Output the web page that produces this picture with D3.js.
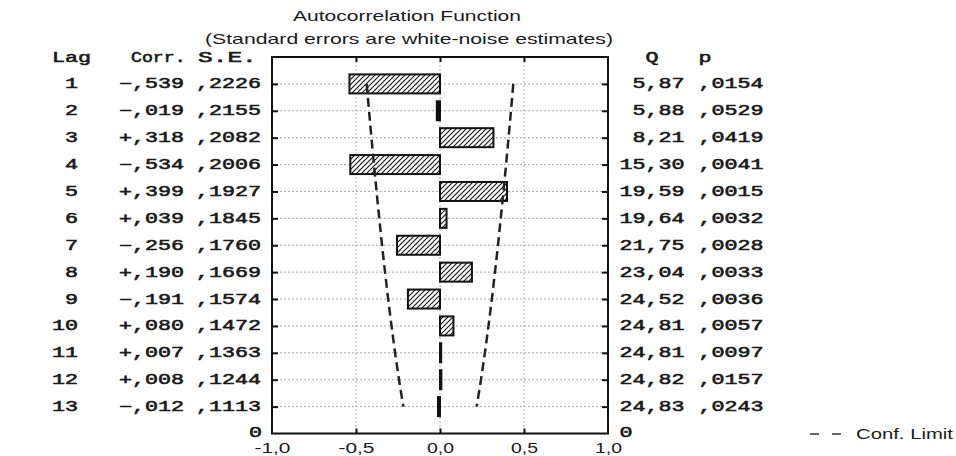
<!DOCTYPE html>
<html><head><meta charset="utf-8">
<script src="https://cdn.jsdelivr.net/npm/d3@7"></script>
<style>
html,body{margin:0;padding:0;background:#fff;}
svg{display:block;}
.mono{font-family:"Liberation Mono","DejaVu Sans Mono",monospace;font-weight:normal;font-size:14px;fill:#1a1a1a;stroke:#1a1a1a;stroke-width:0.55px;}
.sans{font-family:"Liberation Sans",Arial,sans-serif;fill:#1a1a1a;}
</style></head>
<body>
<svg id="c" width="956" height="456"></svg>
<script>
const lags = [1,2,3,4,5,6,7,8,9,10,11,12,13];
const corr = [-0.539,-0.019,0.318,-0.534,0.399,0.039,-0.256,0.190,-0.191,0.080,0.007,0.008,-0.012];
const stdErr = [0.2226,0.2155,0.2082,0.2006,0.1927,0.1845,0.1760,0.1669,0.1574,0.1472,0.1363,0.1244,0.1113];
const qStat = [5.87,5.88,8.21,15.30,19.59,19.64,21.75,23.04,24.52,24.81,24.81,24.82,24.83];
const pVal = [0.0154,0.0529,0.0419,0.0041,0.0015,0.0032,0.0028,0.0033,0.0036,0.0057,0.0097,0.0157,0.0243];
const xTicks = [-1,-0.5,0,0.5,1];
const gridX = [-0.5,0,0.5];
const confZ = 1.96;

const svg = d3.select("#c");
const x = d3.scaleLinear().domain([-1,1]).range([272,608]);
const y = d3.scaleLinear().domain([0,14]).range([57,433.5]);
const CH = 13;              // char advance in table font
const MONO_FS = 14;
const SX = CH/(0.6*MONO_FS); // horizontal stretch of the table font

function monoText(g, str, xs, yb, sx){
  return g.append("text").attr("class","mono")
    .attr("transform",`translate(${xs},${yb}) scale(${sx||SX},1)`)
    .attr("xml:space","preserve").style("white-space","pre").text(str);
}
function sansText(str, cx, yb, size, width){
  return svg.append("text").attr("class","sans").attr("x",cx-width/2).attr("y",yb)
    .attr("font-size",size).attr("textLength",width).attr("lengthAdjust","spacingAndGlyphs").text(str);
}

// hatch pattern
const defs = svg.append("defs");
const pat = defs.append("pattern").attr("id","hatch").attr("patternUnits","userSpaceOnUse")
  .attr("width",5).attr("height",5);
pat.append("rect").attr("width",5).attr("height",5).attr("fill","#fff");
pat.append("path").attr("d","M-1,1 L1,-1 M0,5 L5,0 M4,6 L6,4").attr("stroke","#111").attr("stroke-width",1.1);

// titles
sansText("Autocorrelation Function", 407, 21, 15, 228);
sansText("(Standard errors are white-noise estimates)", 409, 44, 15, 408);

// grid
const plot = svg.append("g");
plot.selectAll("line.hg").data(lags).join("line").attr("class","hg")
  .attr("x1",x(-1)).attr("x2",x(1)).attr("y1",d=>y(d)).attr("y2",d=>y(d))
  .attr("stroke","#aaa").attr("stroke-width",1).attr("stroke-dasharray","2,2");
plot.selectAll("line.vg").data(gridX).join("line").attr("class","vg")
  .attr("x1",d=>x(d)).attr("x2",d=>x(d)).attr("y1",y(0)).attr("y2",y(14))
  .attr("stroke","#aaa").attr("stroke-width",1).attr("stroke-dasharray","2,2");

// bars
const bh = 19;
plot.selectAll("rect.bar").data(lags).join("rect").attr("class","bar")
  .attr("x",(d,i)=>x(Math.min(0,corr[i])))
  .attr("width",(d,i)=>Math.abs(x(corr[i])-x(0)))
  .attr("y",d=>y(d)-bh/2).attr("height",bh)
  .attr("fill",(d,i)=>Math.abs(x(corr[i])-x(0))<5 ? "#111" : "url(#hatch)")
  .attr("stroke","#111").attr("stroke-width",2);

// confidence limits
const line = d3.line().curve(d3.curveMonotoneY);
[1,-1].forEach(sgn=>{
  plot.append("path")
    .attr("d", line(lags.map((d,i)=>[x(sgn*confZ*stdErr[i]), y(d)])))
    .attr("fill","none").attr("stroke","#222").attr("stroke-width",2.5)
    .attr("stroke-dasharray","9,5");
});

// axes (ticks inward)
const axL = svg.append("g").attr("transform",`translate(${x(-1)},0)`)
  .call(d3.axisLeft(y).tickValues(lags).tickSize(-6).tickFormat(""));
const axR = svg.append("g").attr("transform",`translate(${x(1)},0)`)
  .call(d3.axisRight(y).tickValues(lags).tickSize(-6).tickFormat(""));
const axT = svg.append("g").attr("transform",`translate(0,${y(0)})`)
  .call(d3.axisTop(x).tickValues(gridX).tickSize(-5).tickFormat(""));
const fmtX = v => d3.format(".1f")(v).replace("−","-").replace(".",",");
const axB = svg.append("g").attr("transform",`translate(0,${y(14)})`)
  .call(d3.axisBottom(x).tickValues(xTicks).tickSize(-5).tickPadding(9.5).tickFormat(fmtX));
[axL,axR,axT,axB].forEach(a=>{
  a.select(".domain").remove();
  a.selectAll(".tick line").attr("stroke","#111").attr("stroke-width",2);
});
axB.selectAll(".tick").filter(d=>d===-1||d===1).select("line").remove();
axB.selectAll("text").attr("font-family","Liberation Sans, Arial, sans-serif")
  .attr("font-size",14.5).attr("fill","#1a1a1a")
  .attr("textLength",function(){return this.textContent.length*9;})
  .attr("lengthAdjust","spacingAndGlyphs");

// frame
svg.append("rect").attr("x",x(-1)).attr("y",y(0)).attr("width",x(1)-x(-1)).attr("height",y(14)-y(0))
  .attr("fill","none").attr("stroke","#111").attr("stroke-width",2);

// table text
const tbl = svg.append("g");
const fmtCorr = v => (v<0?"\u2212":"+")+","+String(Math.round(Math.abs(v)*1000)).padStart(3,"0");
const fmtP = v => ","+String(Math.round(v*10000)).padStart(4,"0");
const fmtQ = v => v.toFixed(2).replace(".",",");
const base = d => y(d)+4.5;

monoText(tbl,"Lag",52,y(0)+5);
monoText(tbl,"Corr.",131,y(0)+5, 1.3);
monoText(tbl,"S.E.",198,y(0)+5, 1.75);
monoText(tbl,"Q",645.5,y(0)+5);
monoText(tbl,"p",698.5,y(0)+5);

lags.forEach((d,i)=>{
  const ls = String(d);
  monoText(tbl, ls, 78-ls.length*CH, base(d));
  monoText(tbl, fmtCorr(corr[i]), 119, base(d));
  monoText(tbl, fmtP(stdErr[i]), 196, base(d));
  const qs = fmtQ(qStat[i]);
  monoText(tbl, qs, 684.5-qs.length*CH, base(d));
  monoText(tbl, fmtP(pVal[i]), 698.5, base(d));
});
monoText(tbl,"0",261-CH+1,y(14)+3.5).attr("font-size",11);
monoText(tbl,"0",619.5,y(14)+3.5).attr("font-size",11);

// legend
svg.append("line").attr("x1",810).attr("x2",842).attr("y1",434).attr("y2",434)
  .attr("stroke","#333").attr("stroke-width",1.5).attr("stroke-dasharray","9,13");
sansText("Conf. Limit", 904.5, 439, 15, 97);
</script>
</body></html>
